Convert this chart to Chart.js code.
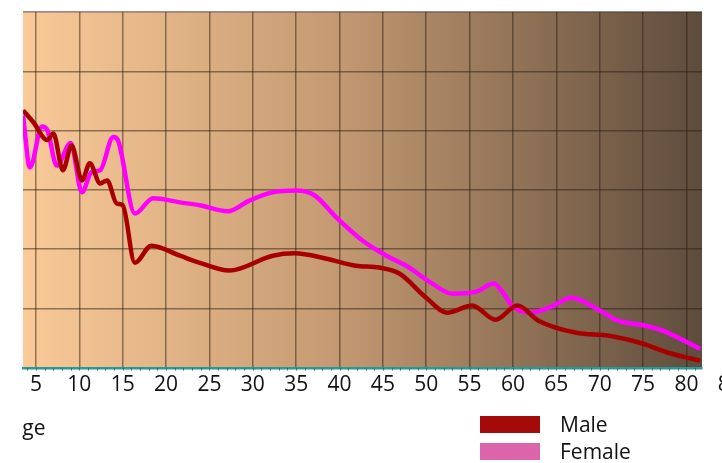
<!DOCTYPE html>
<html>
<head>
<meta charset="utf-8">
<script src="https://cdn.jsdelivr.net/npm/chart.js@4/dist/chart.umd.min.js"></script>
<style>
  body { margin: 0; background: #fff; width: 722px; height: 463px; overflow: hidden; position: relative; font-family: "Open Sans", sans-serif; }
  #wrap { position: absolute; left: 22px; top: 0; width: 700px; height: 463px; overflow: hidden; }
  #wrap canvas { position: absolute; left: -60px; top: 0; }
  .lbox { position: absolute; left: 480px; width: 60px; height: 17px; }
  .ltxt { position: absolute; left: 560px; font-size: 21px; line-height: 21px; color: #111; }
</style>
</head>
<body>
<div id="wrap"><canvas id="chart" width="800" height="463"></canvas></div>
<div class="lbox" style="top:416px;background:#a50a0a"></div>
<div class="ltxt" style="top:414px">Male</div>
<div class="lbox" style="top:443px;background:#dc64aa"></div>
<div class="ltxt" style="top:441px">Female</div>
<script>
// values (y units arbitrary, 0..60)
var maleAges = [3.5, 4.7, 6.3, 7.0, 8.1, 9.1, 10.3, 11.2, 12.4, 13.2, 14.3, 15.0, 16.4, 18.3, 21.6, 23.9, 27.3, 32.3, 34.8, 38.5, 41.9, 44.6, 46.9, 50.0, 52.4, 55.3, 58.0, 60.5, 63.0, 67.3, 71.1, 74.9, 78.0, 81.6];
var maleValues = [43.4, 41.4, 38.4, 39.5, 33.3, 37.5, 31.6, 34.5, 31.1, 31.6, 27.7, 27.4, 17.7, 20.6, 18.9, 17.7, 16.4, 18.9, 19.3, 18.4, 17.2, 16.9, 15.9, 11.8, 9.3, 10.5, 8.1, 10.5, 7.9, 5.9, 5.4, 4.1, 2.5, 1.2];
var femaleAges = [3.5, 4.3, 5.7, 6.3, 7.4, 9.0, 10.3, 11.4, 12.4, 13.9, 14.4, 16.4, 18.5, 21.6, 23.9, 27.1, 29.6, 32.3, 35.0, 37.1, 39.6, 42.6, 45.4, 47.7, 50.7, 53.0, 55.7, 57.8, 58.7, 59.9, 62.1, 64.1, 66.8, 69.6, 72.2, 75.3, 77.2, 81.6];
var femaleValues = [42.6, 33.8, 40.7, 40.1, 34.1, 37.9, 29.6, 33.0, 33.3, 38.9, 38.5, 26.0, 28.6, 27.9, 27.4, 26.4, 28.2, 29.6, 29.9, 29.1, 25.4, 21.5, 18.9, 17.2, 14.2, 12.5, 12.8, 14.2, 13.0, 10.5, 9.3, 10.1, 11.8, 10.0, 7.9, 7.1, 6.3, 3.2];
var xTicks = [5, 10, 15, 20, 25, 30, 35, 40, 45, 50, 55, 60, 65, 70, 75, 80, 85];

function pts(xs, ys) {
  return xs.map(function(x, i){ return {x: x, y: ys[i]}; });
}

// gradient background + minor ticks + axis title
var decor = {
  id: 'decor',
  beforeDraw: function(chart) {
    var a = chart.chartArea, ctx = chart.ctx;
    var g = ctx.createLinearGradient(a.left, 0, a.right, 0);
    g.addColorStop(0, 'rgb(250,202,152)');
    g.addColorStop(0.45, 'rgb(198,155,115)');
    g.addColorStop(1, 'rgb(94,76,60)');
    ctx.save();
    ctx.fillStyle = g;
    ctx.fillRect(a.left, a.top, a.right - a.left, a.bottom - a.top);
    ctx.restore();
  },
  afterDraw: function(chart) {
    var a = chart.chartArea, ctx = chart.ctx, xs = chart.scales.x;
    ctx.save();
    ctx.strokeStyle = 'rgba(20,80,80,0.6)';
    ctx.lineWidth = 1;
    for (var v = 4; v <= 81; v++) {
      var px = Math.round(xs.getPixelForValue(v)) + 0.5;
      ctx.beginPath(); ctx.moveTo(px, a.bottom); ctx.lineTo(px, a.bottom + 3); ctx.stroke();
    }
    ctx.fillStyle = '#111';
    ctx.font = '21px "Open Sans"';
    ctx.textBaseline = 'alphabetic';
    ctx.fillText('Age', a.left - 14, 435);
    ctx.restore();
  }
};

var ctx = document.getElementById('chart').getContext('2d');
new Chart(ctx, {
  type: 'line',
  data: {
    datasets: [
      { label: 'Male', data: pts(maleAges, maleValues), borderColor: '#a80000', borderWidth: 4.5, pointRadius: 0, cubicInterpolationMode: 'monotone', fill: false },
      { label: 'Female', data: pts(femaleAges, femaleValues), borderColor: '#ff00ff', borderWidth: 4.5, pointRadius: 0, cubicInterpolationMode: 'monotone', fill: false }
    ]
  },
  options: {
    responsive: false,
    animation: false,
    layout: { padding: { left: 61, right: 60, top: 12, bottom: 60 } },
    plugins: { legend: { display: false }, tooltip: { enabled: false } },
    scales: {
      x: {
        type: 'linear', min: 3.5, max: 81.8,
        afterBuildTicks: function(s){ s.ticks = xTicks.map(function(v){ return {value: v}; }); },
        grid: { color: 'rgba(40,30,20,0.5)', lineWidth: 1.5, drawTicks: false },
        border: { display: true, color: '#2a9a98', width: 2.5 },
        ticks: { color: '#111', padding: 5, maxRotation: 0, autoSkip: false, font: { family: 'Open Sans', size: 21 } }
      },
      y: {
        min: 0, max: 60,
        ticks: { display: false, stepSize: 10 },
        grid: { color: 'rgba(40,30,20,0.5)', lineWidth: 1.5, drawTicks: false },
        border: { display: false }
      }
    }
  },
  plugins: [decor]
});
</script>
</body>
</html>
